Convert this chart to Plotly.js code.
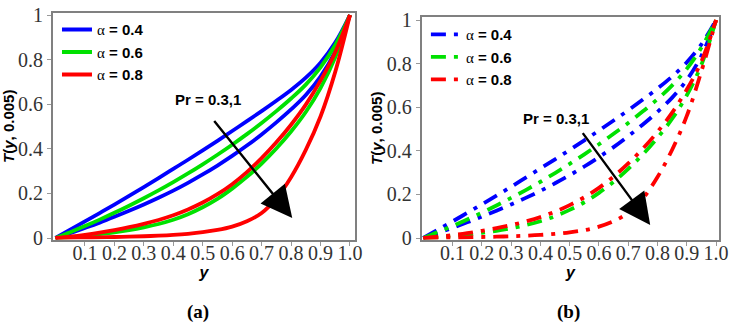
<!DOCTYPE html>
<html>
<head>
<meta charset="utf-8">
<script src="https://cdn.plot.ly/plotly-3.0.1.min.js"></script>
<style>html,body{margin:0;padding:0;background:#fff;}#chart{width:742px;height:331px;}</style>
</head>
<body>
<div id="chart"></div>
<script>
// Shared spatial grid (y coordinate)
const yGrid = [0, 0.05, 0.1, 0.15, 0.2, 0.25, 0.3, 0.35, 0.4, 0.45, 0.5, 0.55, 0.6, 0.65, 0.7, 0.75, 0.8, 0.85, 0.9, 0.95, 1];

// Panel (a): T(y, 0.005), solid lines (Pr = 0.3 upper, Pr = 1 lower)
const aBlue03  = [0, 0.037, 0.0745, 0.112, 0.15, 0.189, 0.2285, 0.269, 0.31, 0.351, 0.393, 0.436, 0.48, 0.524, 0.569, 0.6155, 0.664, 0.719, 0.7865, 0.8765, 1];
const aGreen03 = [0, 0.026, 0.0535, 0.0825, 0.113, 0.145, 0.1785, 0.2135, 0.2505, 0.2895, 0.3305, 0.3735, 0.4185, 0.466, 0.516, 0.569, 0.6255, 0.688, 0.7655, 0.8655, 1];
const aBlue1   = [0, 0.022, 0.045, 0.069, 0.095, 0.122, 0.1505, 0.1805, 0.2125, 0.2475, 0.285, 0.325, 0.368, 0.4145, 0.4645, 0.5185, 0.5765, 0.6415, 0.724, 0.8365, 1];
const aRed03   = [0, 0.006, 0.014, 0.024, 0.0355, 0.0485, 0.0635, 0.081, 0.102, 0.128, 0.159, 0.1965, 0.2415, 0.2955, 0.358, 0.429, 0.508, 0.598, 0.7055, 0.833, 1];
const aGreen1  = [0, 0.004, 0.01, 0.017, 0.0255, 0.0355, 0.048, 0.063, 0.082, 0.107, 0.138, 0.1755, 0.2215, 0.274, 0.334, 0.4015, 0.4775, 0.565, 0.6725, 0.81, 1];
const aRed1    = [0, 0.001, 0.002, 0.003, 0.0045, 0.006, 0.008, 0.0105, 0.014, 0.019, 0.026, 0.036, 0.051, 0.075, 0.1125, 0.1775, 0.2725, 0.395, 0.545, 0.745, 1];

// Panel (b): T(y, 0.005), dash-dot lines (Pr = 0.3 upper, Pr = 1 lower)
const bBlue03  = [0, 0.038, 0.076, 0.115, 0.154, 0.194, 0.235, 0.277, 0.319, 0.361, 0.404, 0.448, 0.493, 0.539, 0.586, 0.635, 0.686, 0.741, 0.806, 0.8885, 1];
const bGreen03 = [0, 0.027, 0.055, 0.085, 0.116, 0.149, 0.184, 0.22, 0.258, 0.298, 0.34, 0.384, 0.43, 0.478, 0.528, 0.581, 0.637, 0.70, 0.776, 0.874, 1];
const bBlue1   = [0, 0.023, 0.047, 0.072, 0.098, 0.125, 0.154, 0.184, 0.216, 0.251, 0.288, 0.328, 0.371, 0.417, 0.467, 0.521, 0.579, 0.644, 0.725, 0.836, 1];
const bRed03   = [0, 0.006, 0.013, 0.022, 0.033, 0.045, 0.059, 0.076, 0.096, 0.121, 0.151, 0.187, 0.23, 0.282, 0.342, 0.41, 0.487, 0.575, 0.681, 0.81, 1];
const bGreen1  = [0, 0.004, 0.009, 0.016, 0.024, 0.033, 0.045, 0.059, 0.077, 0.1, 0.129, 0.164, 0.207, 0.258, 0.317, 0.384, 0.46, 0.547, 0.655, 0.795, 1];
const bRed1    = [0, 0.001, 0.002, 0.003, 0.0045, 0.006, 0.008, 0.0105, 0.014, 0.019, 0.026, 0.036, 0.052, 0.077, 0.116, 0.182, 0.28, 0.405, 0.56, 0.765, 1];

const alphaLabels = ['0.4', '0.6', '0.8'];
const xTickVals = [0.1, 0.2, 0.3, 0.4, 0.5, 0.6, 0.7, 0.8, 0.9, 1.0];
const xTickText = ['0.1', '0.2', '0.3', '0.4', '0.5', '0.6', '0.7', '0.8', '0.9', '1.0'];
const yTickVals = [0, 0.2, 0.4, 0.6, 0.8, 1];
const yTickText = ['0', '0.2', '0.4', '0.6', '0.8', '1'];
const prLabel = 'Pr = 0.3,1';
const yTitle = '<i>T</i>(<i>y</i>, 0.005)';
const xTitle = 'y';
const panelLabels = ['(a)', '(b)'];

const BLUE = 'rgb(0,0,255)', GREEN = 'rgb(0,225,0)', RED = 'rgb(255,0,0)';
const colors = [BLUE, GREEN, RED];
const LW = 3.8;
const DASHDOT = '15px,8px,4px,8px';

function legName(a) {
  return '<span style="font-family:\'Liberation Serif\',serif;font-weight:normal">α</span> = ' + a;
}

const traces = [];
function addPanel(xa, ya, leg, sets, dash) {
  sets.forEach((pair, i) => {
    traces.push({x: yGrid, y: pair[0], xaxis: xa, yaxis: ya, mode: 'lines',
      line: {color: colors[i], width: LW, shape: 'spline', smoothing: 1, dash: dash},
      name: legName(alphaLabels[i]), legend: leg, showlegend: true, legendgroup: leg + i});
    traces.push({x: yGrid, y: pair[1], xaxis: xa, yaxis: ya, mode: 'lines',
      line: {color: colors[i], width: LW, shape: 'spline', smoothing: 1, dash: dash},
      name: legName(alphaLabels[i]), legend: leg, showlegend: false, legendgroup: leg + i});
  });
}
addPanel('x', 'y', 'legend', [[aBlue03, aBlue1], [aGreen03, aGreen1], [aRed03, aRed1]], 'solid');
addPanel('x2', 'y2', 'legend2', [[bBlue03, bBlue1], [bGreen03, bGreen1], [bRed03, bRed1]], DASHDOT);

const tickFont = {family: "'Liberation Serif', 'Times New Roman', serif", size: 20, color: '#333'};
function xAxis(domain, range, anchor) {
  return {domain: domain, range: range, anchor: anchor, showgrid: false, zeroline: false,
    showline: true, linecolor: '#808080', linewidth: 2, mirror: true,
    ticks: 'outside', ticklen: 4, tickcolor: '#999', tickwidth: 1, ticklabelstandoff: -10,
    tickvals: xTickVals, ticktext: xTickText, tickfont: tickFont,
    title: {text: xTitle, standoff: 0, font: {family: "'Liberation Sans', Arial, sans-serif", size: 16, weight: 'bold', style: 'italic', color: '#000'}}};
}
function yAxis(domain, range, anchor) {
  return {domain: domain, range: range, anchor: anchor, showgrid: false, zeroline: false,
    showline: true, linecolor: '#808080', linewidth: 2, mirror: true,
    ticks: 'outside', ticklen: 4, tickcolor: '#999', tickwidth: 1,
    tickvals: yTickVals, ticktext: yTickText, tickfont: tickFont,
    title: {text: yTitle, standoff: 0, font: {family: "'Liberation Sans', Arial, sans-serif", size: 15, weight: 'bold', color: '#000'}}};
}

const legFont = {family: "'Liberation Sans', Arial, sans-serif", size: 15, weight: 'bold', color: '#000'};
const annFont = {family: "'Liberation Sans', Arial, sans-serif", size: 15, weight: 'bold', color: '#000'};
const capFont = {family: "'Liberation Serif', 'Times New Roman', serif", size: 19, color: '#000'};
const layout = {
  width: 742, height: 331,
  margin: {l: 0, r: 0, t: 0, b: 0},
  paper_bgcolor: '#fff', plot_bgcolor: '#fff',
  showlegend: true,
  xaxis: xAxis([0.0714, 0.4784], [-0.0085, 1.017], 'y'),
  yaxis: yAxis([0.2764, 0.9607], [-0.0067, 1.009], 'x'),
  xaxis2: xAxis([0.5683, 0.969], [-0.0055, 1.010], 'y2'),
  yaxis2: yAxis([0.2764, 0.9486], [-0.0069, 1.0138], 'x2'),
  legend: {x: 0.0768, y: 0.96, xanchor: 'left', yanchor: 'top', bgcolor: 'rgba(0,0,0,0)',
    borderwidth: 0, font: legFont, tracegroupgap: 0, itemwidth: 30},
  legend2: {x: 0.574, y: 0.945, xanchor: 'left', yanchor: 'top', bgcolor: 'rgba(0,0,0,0)',
    borderwidth: 0, font: legFont, tracegroupgap: 0, itemwidth: 30},
  annotations: [
    {xref: 'x', yref: 'y', x: 0.518, y: 0.619, text: prLabel, showarrow: false, font: annFont},
    {xref: 'x', yref: 'y', axref: 'x', ayref: 'y', x: 0.804, y: 0.09, ax: 0.535, ay: 0.532,
      text: '', showarrow: true, arrowhead: 2, arrowsize: 2.6, arrowwidth: 2.4, arrowcolor: '#000'},
    {xref: 'x2', yref: 'y2', x: 0.453, y: 0.549, text: prLabel, showarrow: false, font: annFont},
    {xref: 'x2', yref: 'y2', axref: 'x2', ayref: 'y2', x: 0.775, y: 0.06, ax: 0.541, ay: 0.488,
      text: '', showarrow: true, arrowhead: 2, arrowsize: 2.6, arrowwidth: 2.4, arrowcolor: '#000'},
    {xref: 'paper', yref: 'paper', x: 198 / 742, y: (331 - 312) / 331, xanchor: 'center', yanchor: 'middle',
      text: '<b>' + panelLabels[0] + '</b>', showarrow: false, font: capFont},
    {xref: 'paper', yref: 'paper', x: 568 / 742, y: (331 - 312) / 331, xanchor: 'center', yanchor: 'middle',
      text: '<b>' + panelLabels[1] + '</b>', showarrow: false, font: capFont}
  ]
};

Plotly.newPlot('chart', traces, layout, {staticPlot: true, displayModeBar: false});
</script>
</body>
</html>
